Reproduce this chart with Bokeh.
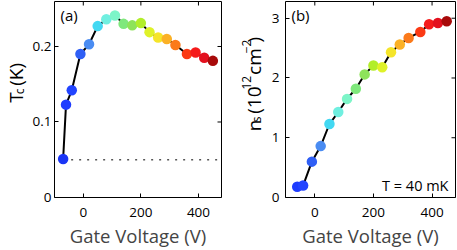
import math
from bokeh.plotting import figure
from bokeh.models import Range1d, FixedTicker, Label, ColumnDataSource
from bokeh.layouts import row
from bokeh.embed import file_html
from bokeh.resources import INLINE

# ---------------- data ----------------
gate_v_a = [-70, -60, -40, -10, 20, 50, 80, 110, 140, 170, 200, 230, 260, 290, 320, 360, 390, 420, 450]
tc_k = [0.051, 0.123, 0.142, 0.190, 0.203, 0.227, 0.236, 0.241, 0.230, 0.228, 0.231,
        0.219, 0.212, 0.210, 0.202, 0.190, 0.192, 0.185, 0.181]
colors_a = ["#1a35f5", "#1e3cff", "#2244ff", "#2f5ff5", "#4a8cf2", "#42d8f2", "#70efe0",
            "#7df5c8", "#7fe87c", "#8ee35a", "#b2ee2a", "#dff229", "#f5e52a", "#fbb126",
            "#fb7a1a", "#fb3a14", "#f51a1a", "#e3101e", "#a80a0a"]

gate_v_b = [-60, -40, -10, 20, 50, 80, 110, 140, 170, 200, 230, 260, 290, 320, 360, 390, 420, 450]
ns_1e12 = [0.18, 0.20, 0.60, 0.86, 1.23, 1.43, 1.65, 1.82, 2.06, 2.21, 2.18, 2.43, 2.56,
           2.67, 2.77, 2.90, 2.92, 2.95]
colors_b = colors_a[1:]

tc_floor = 0.05
x_ticks = [0, 200, 400]
y_ticks_a = [0, 0.1, 0.2]
y_ticks_b = [0, 1, 2, 3]

FONT = "Open Sans"
H = 250


def make_fig(width, left, right, yr, yticks, overrides, standoff):
    p = figure(width=width, height=H, x_range=Range1d(-100, 480), y_range=Range1d(*yr),
               output_backend="svg", toolbar_location=None,
               min_border_left=left, min_border_right=right, min_border_top=1, min_border_bottom=50)
    p.grid.visible = False
    p.outline_line_color = "black"
    p.outline_line_width = 1
    p.outline_line_alpha = 1
    p.background_fill_color = "white"
    p.border_fill_color = "white"
    for ax in p.xaxis:
        ax.ticker = FixedTicker(ticks=x_ticks)
        ax.axis_label = "Gate Voltage (V)"
        ax.axis_label_text_font = FONT
        ax.axis_label_text_font_size = "18.5px"
        ax.axis_label_text_font_style = "normal"
        ax.axis_label_standoff = 3
        ax.major_label_standoff = 10
    for ax in p.yaxis:
        ax.ticker = FixedTicker(ticks=yticks)
        ax.major_label_overrides = overrides
        ax.major_label_standoff = standoff
    for ax in list(p.xaxis) + list(p.yaxis):
        ax.axis_line_color = None
        ax.major_tick_in = 4
        ax.major_tick_out = 0
        ax.minor_tick_line_color = None
        ax.major_label_text_font = FONT
        ax.major_label_text_font_size = "13.5px"
        ax.major_label_text_color = "black"
    # inward ticks on the top and right edges (half of each dash is clipped by the frame)
    p.scatter(x=x_ticks, y=[yr[1]] * len(x_ticks), marker="dash", size=8, angle=math.pi / 2,
              line_color="black", line_width=1)
    p.scatter(x=[p.x_range.end] * len(yticks), y=yticks, marker="dash", size=8,
              line_color="black", line_width=1)
    return p


def label_fig(width):
    f = figure(width=width, height=H, x_range=Range1d(0, width), y_range=Range1d(0, H),
               output_backend="svg", toolbar_location=None, x_axis_type=None, y_axis_type=None,
               min_border=0, min_border_left=0, min_border_right=0, min_border_top=0,
               min_border_bottom=0)
    f.grid.visible = False
    f.outline_line_color = None
    f.background_fill_color = "white"
    f.border_fill_color = "white"
    return f


def lab(p, text, x, y, size, angle=0.0, align="left", baseline="alphabetic", units="screen"):
    p.add_layout(Label(x=x, y=y, x_units=units, y_units=units, text=text,
                       text_font=FONT, text_font_size=size, angle=angle,
                       text_align=align, text_baseline=baseline, text_color="black"))


r = math.pi / 2

# ---------------- y label (a) ----------------
la = label_fig(29)
lab(la, "T", 15.5, 121, "19px", angle=r, units="data")
lab(la, "c", 18.5, 131.6, "12px", angle=r, units="data")
lab(la, "(K)", 15.5, 142.5, "19px", angle=r, units="data")

# ---------------- panel (a) ----------------
pa = make_fig(193, 21, 1, (0, 0.2596), y_ticks_a, {0: "0", 0.1: "0.1", 0.2: "0.2"}, 3)
pa.line([min(gate_v_a), pa.x_range.end], [tc_floor, tc_floor], line_color="#555555",
        line_width=1.4, line_dash="2 6")
pa.line(gate_v_a, tc_k, line_color="black", line_width=2)
pa.scatter(x="x", y="y", color="c", size=10.5, line_width=0,
           source=ColumnDataSource(dict(x=gate_v_a, y=tc_k, c=colors_a)))
lab(pa, "(a)", 6, 193, "15px", baseline="top")

# ---------------- y label (b) ----------------
lb = label_fig(46)
bx = 31
lab(lb, "n", bx, 84.5, "19px", angle=r, units="data")
lab(lb, "s", bx + 3, 96.1, "12px", angle=r, units="data")
lab(lb, "(10", bx, 106.8, "19px", angle=r, units="data")
lab(lb, "12", bx - 7, 137.7, "12px", angle=r, units="data")
lab(lb, "cm", bx, 156.3, "19px", angle=r, units="data")
lab(lb, "\u22122", bx - 7, 183.9, "12px", angle=r, units="data")
lab(lb, ")", bx, 197.7, "19px", angle=r, units="data")

# ---------------- panel (b) ----------------
pb = make_fig(189, 17, 2, (0, 3.28), y_ticks_b, {}, 6)
pb.line(gate_v_b, ns_1e12, line_color="black", line_width=2)
pb.scatter(x="x", y="y", color="c", size=10.5, line_width=0,
           source=ColumnDataSource(dict(x=gate_v_b, y=ns_1e12, c=colors_b)))
lab(pb, "(b)", 6, 193, "15px", baseline="top")
lab(pb, "T = 40 mK", 163, 12, "14.5px", align="right")

layout = row(la, pa, lb, pb)
open("out.html", "w").write(file_html(layout, INLINE))
